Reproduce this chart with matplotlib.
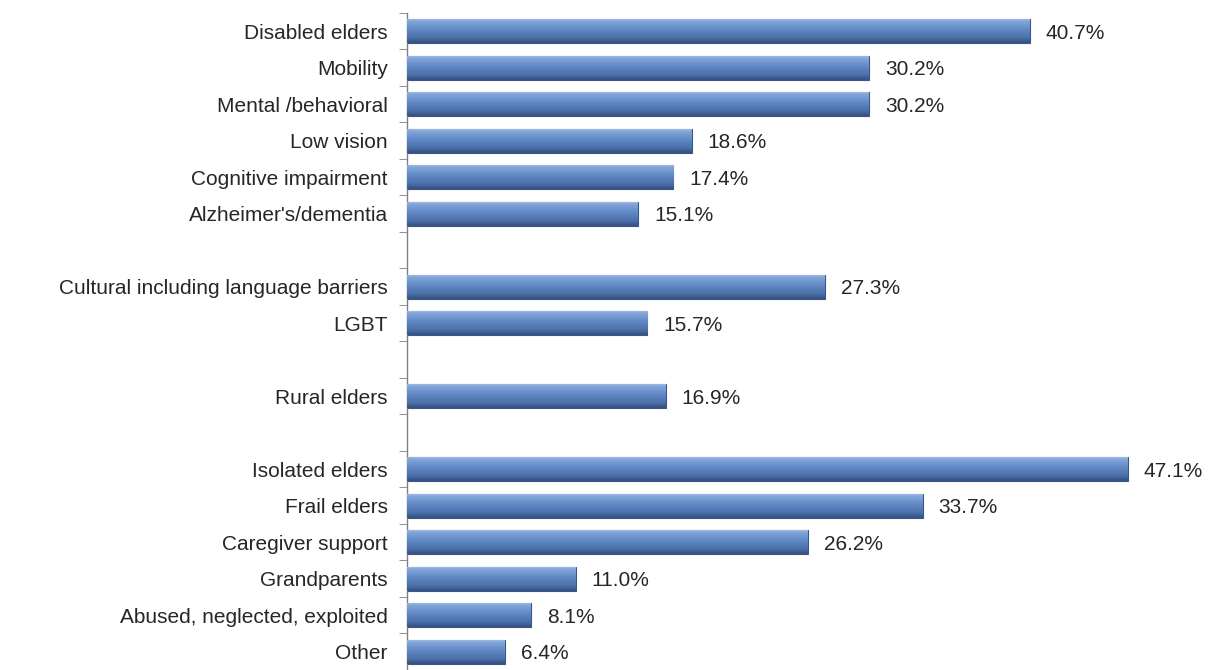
import numpy as np
from matplotlib import pyplot as plt
from matplotlib.colors import LinearSegmentedColormap

# empty strings are the gaps between groups
labels = ["Disabled elders", "Mobility", "Mental /behavioral", "Low vision",
          "Cognitive impairment", "Alzheimer's/dementia", "",
          "Cultural including language barriers", "LGBT", "",
          "Rural elders", "",
          "Isolated elders", "Frail elders", "Caregiver support", "Grandparents",
          "Abused, neglected, exploited", "Other"]
values = [40.7, 30.2, 30.2, 18.6, 17.4, 15.1, None,
          27.3, 15.7, None,
          16.9, None,
          47.1, 33.7, 26.2, 11.0, 8.1, 6.4]

plt.rcParams['font.family'] = ['Liberation Sans', 'DejaVu Sans']
fsize = 15
tcolor = "#262626"

fig = plt.figure(figsize=(12.14, 6.70), dpi=100)
ax = fig.add_axes([0.3355, 0.0, 0.655, 0.9806])

n = len(labels)
ypos = np.arange(n)
bar_h = 0.66

cmap = LinearSegmentedColormap.from_list(
    "bar", [(0.0, "#a9c3e6"), (0.12, "#83a6da"), (0.45, "#6189c6"),
            (0.8, "#4b6fa9"), (1.0, "#364f7e")])
grad = np.linspace(0, 1, 64).reshape(-1, 1)

for y, v in zip(ypos, values):
    if v is None:
        continue
    bar = ax.barh(y, v, height=bar_h, left=0, color="#5479b5",
                  edgecolor="#3a5789", linewidth=0.8, zorder=2)[0]
    im = ax.imshow(grad, cmap=cmap, aspect="auto", zorder=3,
                   extent=[0, v, y + bar_h / 2, y - bar_h / 2])
    im.set_clip_path(bar)
    ax.text(v + 1.05, y + 0.05, "%.1f%%" % v, va="center", ha="left",
            fontsize=fsize, color=tcolor)

ax.set_xlim(0, 52)
ax.set_ylim(n - 0.5, -0.5)
ax.set_yticks(ypos)
ax.set_yticklabels(labels, fontsize=fsize, color=tcolor)
ax.set_yticks(np.arange(n + 1) - 0.5, minor=True)
ax.tick_params(axis="y", which="major", length=0, pad=14)
ax.tick_params(axis="y", which="minor", length=6, color="#808080", direction="out")
ax.set_xticks([])
for s in ["top", "right", "bottom"]:
    ax.spines[s].set_visible(False)
ax.spines["left"].set_color("#808080")
ax.spines["left"].set_linewidth(1.0)

fig.savefig("out.png", dpi=100)
